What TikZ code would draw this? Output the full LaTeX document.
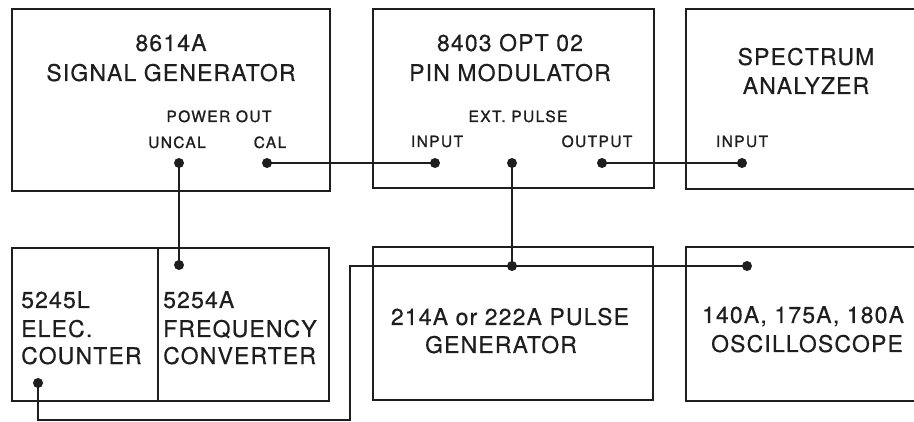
\documentclass[tikz,border=0pt]{standalone}
\usepackage{fontspec}
\setmainfont{TeX Gyre Heros}[LetterSpace=5]
\definecolor{ink}{HTML}{1E1E1E}
\begin{document}
\begin{tikzpicture}[x=1pt,y=-1pt,
  box/.style={draw=ink,line width=1.8pt,inner sep=0,anchor=north west},
  big/.style={inner sep=0,anchor=base,text=ink,font=\fontsize{23}{28}\selectfont\addfontfeature{FakeBold=0.4}},
  bigl/.style={big,anchor=base west},
  small/.style={inner sep=0,anchor=base,text=ink,font=\fontsize{15.5}{18}\selectfont\addfontfeature{LetterSpace=9,FakeBold=1.2}},
  port/.style={circle,fill=ink,inner sep=0,minimum size=10pt},
  wire/.style={draw=ink,line width=1.8pt}]
\useasboundingbox (0,0) rectangle (914,422);
\fill[white] (0,0) rectangle (914,422);
\clip (0,0) rectangle (914,422);
% boxes
\node[box,minimum width=318pt,minimum height=182pt] (sg) at (11,8) {};
\node[box,minimum width=281pt,minimum height=179pt] (pm) at (372,8) {};
\node[box,minimum width=250pt,minimum height=180pt] (sa) at (685,8) {};
\node[box,minimum width=146pt,minimum height=153pt] (ctr) at (11,247) {};
\node[box,minimum width=171pt,minimum height=153pt] (fc) at (157,247) {};
\node[box,minimum width=280pt,minimum height=153pt] (pg) at (372,246) {};
\node[box,minimum width=250pt,minimum height=154pt] (osc) at (685,246) {};
% texts
\node[big] (t1) at (171,51) {8614A};
\node[big] (t2) at (171,81) {SIGNAL GENERATOR};
\node[small] (t3) at (219,122) {POWER OUT};
\node[small] (t4) at (177,148) {UNCAL};
\node[small] (t5) at (270,148) {CAL};
\node[big] (t6) at (510,51) {8403 OPT 02};
\node[big] (t7) at (510,81) {PIN MODULATOR};
\node[small] (t8) at (518,122) {EXT. PULSE};
\node[small] (t9) at (437,147) {INPUT};
\node[small] (t10) at (597,147) {OUTPUT};
\node[big] (t11) at (806,65) {SPECTRUM};
\node[big] (t12) at (806,94) {ANALYZER};
\node[small] (t13) at (742,147) {INPUT};
\node[bigl] (t14) at (21,308) {5245L};
\node[bigl] (t15) at (21,337) {ELEC.};
\node[bigl] (t16) at (21,364) {COUNTER};
\node[bigl] (t17) at (163,308) {5254A};
\node[bigl] (t18) at (163,337) {FREQUENCY};
\node[bigl] (t19) at (163,364) {CONVERTER};
\node[big] (t20) at (510,325) {214A or 222A PULSE};
\node[big] (t21) at (501,353) {GENERATOR};
\node[big] (t22) at (803,323) {140A, 175A, 180A};
\node[big] (t23) at (807,352) {OSCILLOSCOPE};
% ports
\coordinate (uncal) at (179,163);
\coordinate (cal) at (267,163);
\coordinate (pmin) at (435,163);
\coordinate (ext) at (512,163);
\coordinate (pmout) at (602,163);
\coordinate (sain) at (742,163);
\coordinate (fcin) at (179,265);
\coordinate (ctrin) at (38,383);
\coordinate (jn) at (512,266);
\coordinate (oscin) at (747,266);
\coordinate (corner) at (350,420);
% wires
\draw[wire] (uncal) -- (fcin);
\draw[wire] (cal) -- (pmin);
\draw[wire] (pmout) -- (sain);
\draw[wire] (ext) -- (jn);
\draw[wire] (ctrin) |- (corner) |- (oscin);
% dots
\foreach \p in {uncal,cal,pmin,ext,pmout,sain,fcin,ctrin,jn,oscin}
  \node[port] (d\p) at (\p) {};
\end{tikzpicture}
\end{document}
